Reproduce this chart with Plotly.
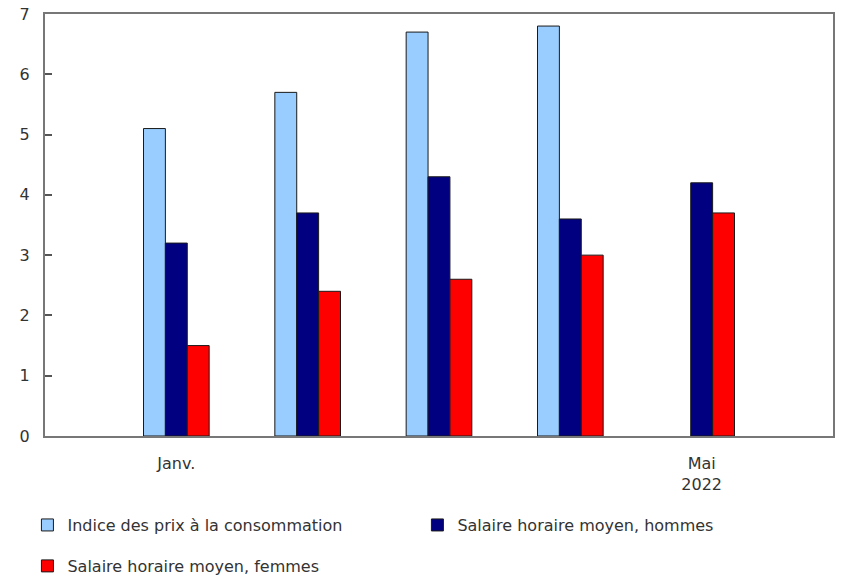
import plotly.graph_objects as go

# Monthly year-over-year change, January to May 2022 (%)
months = ["Janv.", "Févr.", "Mars", "Avr.", "Mai"]
cpi = [5.1, 5.7, 6.7, 6.8, None]
wage_men = [3.2, 3.7, 4.3, 3.6, 4.2]
wage_women = [1.5, 2.4, 2.6, 3.0, 3.7]

series_names = [
    "Indice des prix à la consommation",
    "Salaire horaire moyen, hommes",
    "Salaire horaire moyen, femmes",
]
tick_positions = [0, 4]
tick_labels = ["Janv.", "Mai<br>2022"]
y_ticks = [0, 1, 2, 3, 4, 5, 6, 7]

x = list(range(len(months)))
font = dict(family="DejaVu Sans, Verdana, sans-serif", size=16, color="#333333")
outline = dict(color="#1a1a1a", width=1)

fig = go.Figure()
fig.add_bar(x=x, y=cpi, name=series_names[0],
            marker=dict(color="#99CCFF", line=outline), legend="legend")
fig.add_bar(x=x, y=wage_men, name=series_names[1],
            marker=dict(color="#000080", line=outline), legend="legend2")
fig.add_bar(x=x, y=wage_women, name=series_names[2],
            marker=dict(color="#FF0000", line=outline), legend="legend3")

legend_common = dict(
    orientation="h", xanchor="left", yanchor="middle",
    font=font, bgcolor="rgba(0,0,0,0)", itemclick=False,
)

fig.update_layout(
    width=842, height=576,
    margin=dict(l=45, r=9, t=14, b=140, autoexpand=False),
    paper_bgcolor="white", plot_bgcolor="white",
    font=font,
    barmode="group", bargap=0.5, bargroupgap=0,
    showlegend=True,
    legend=dict(x=-0.0223, y=-0.211, **legend_common),
    legend2=dict(x=0.4726, y=-0.211, **legend_common),
    legend3=dict(x=-0.0223, y=-0.308, **legend_common),
    xaxis=dict(
        range=[-1, 5], tickmode="array", tickvals=tick_positions,
        ticktext=tick_labels, showline=True, linecolor="#777777",
        linewidth=2, mirror=True, ticks="", showgrid=False,
        zeroline=False, tickfont=font, ticklabelstandoff=12,
    ),
    yaxis=dict(
        range=[0, 7], tickmode="array", tickvals=y_ticks,
        showline=True, linecolor="#777777", linewidth=2, mirror=True,
        ticks="inside", ticklen=7, tickcolor="#555555", tickwidth=2,
        showgrid=False, zeroline=False, tickfont=font, ticklabelstandoff=10,
    ),
)

fig.write_html("out.html")
